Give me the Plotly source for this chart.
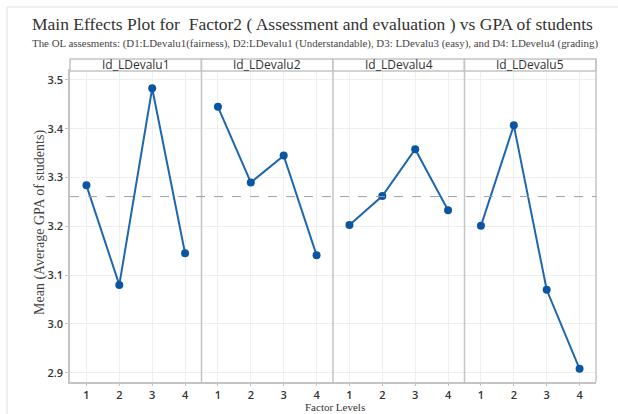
import plotly.graph_objects as go

# Factor levels and mean GPA for each assessment item
levels = [1, 2, 3, 4]
panels = ["Id_LDevalu1", "Id_LDevalu2", "Id_LDevalu4", "Id_LDevalu5"]
means_d1 = [3.284, 3.080, 3.483, 3.145]
means_d2 = [3.445, 3.290, 3.345, 3.141]
means_d4 = [3.203, 3.262, 3.358, 3.233]
means_d5 = [3.201, 3.407, 3.070, 2.908]
grand_mean = 3.261
y_ticks = [2.9, 3.0, 3.1, 3.2, 3.3, 3.4, 3.5]

series = [means_d1, means_d2, means_d4, means_d5]

W, H = 618, 414
ML, MR, MT, MB = 70, 22, 71, 32
plot_w = W - ML - MR
plot_h = H - MT - MB

line_col = "#1f66b0"
marker_col = "#0a56a3"
axis_col = "#c4c4c4"
grid_col = "#efefef"
tick_font = dict(family="Open Sans", size=11, color="#333333", weight=600)
serif = "Liberation Serif"


def px_x(p):
    return (p - ML) / plot_w


def px_y(p):
    return (H - MB - p) / plot_h


fig = go.Figure()
n = len(panels)
hdr = 12 / plot_h
for i, (name, vals) in enumerate(zip(panels, series)):
    xa = "x" if i == 0 else f"x{i+1}"
    fig.add_trace(go.Scatter(
        x=levels, y=vals, mode="lines+markers", xaxis=xa, yaxis="y",
        line=dict(color=line_col, width=2),
        marker=dict(color=marker_col, size=8),
        showlegend=False, hoverinfo="x+y", name=name,
    ))
    d0, d1 = i / n, (i + 1) / n
    key = "xaxis" if i == 0 else f"xaxis{i+1}"
    fig.layout[key] = dict(
        domain=[d0, d1], range=[0.5, 4.5], tickvals=levels,
        showline=True, linecolor=axis_col, linewidth=1.5, mirror=True,
        showgrid=True, gridcolor=grid_col, gridwidth=1,
        ticks="outside", ticklen=2, tickcolor=axis_col,
        tickfont=tick_font, zeroline=False, anchor="y", fixedrange=True,
    )
    # strip header above each panel
    fig.add_shape(type="rect", xref="paper", yref="paper",
                  x0=d0, x1=d1, y0=1, y1=1 + hdr,
                  line=dict(color=axis_col, width=1.5), fillcolor="white")
    fig.add_annotation(text=name, xref="paper", yref="paper",
                       x=(d0 + d1) / 2, y=1 + hdr / 2, showarrow=False,
                       xanchor="center", yanchor="middle",
                       font=dict(family="Open Sans", size=12, color="#333333"))
    # panel right border
    fig.add_shape(type="line", xref="paper", yref="paper",
                  x0=d1, x1=d1, y0=0, y1=1 + hdr,
                  line=dict(color=axis_col, width=1.5))

fig.update_layout(
    yaxis=dict(range=[2.8810, 3.5184], tickvals=y_ticks,
               tickformat=".1f", showline=True, linecolor=axis_col,
               linewidth=1.5, showgrid=True, gridcolor=grid_col,
               ticks="outside", ticklen=3, tickcolor=axis_col,
               tickfont=tick_font, zeroline=False, fixedrange=True),
)

# grand mean reference line across all panels
fig.add_shape(type="line", xref="paper", yref="y", x0=0, x1=1,
              y0=grand_mean, y1=grand_mean,
              line=dict(color="#a0a0a0", width=1, dash="dash"))

# outer frame
fig.add_shape(type="line", xref="paper", yref="paper",
              x0=px_x(7), x1=px_x(W), y0=px_y(7), y1=px_y(7),
              line=dict(color="#e0e0e0", width=1))
fig.add_shape(type="line", xref="paper", yref="paper",
              x0=px_x(7), x1=px_x(7), y0=px_y(7), y1=px_y(H),
              line=dict(color="#e0e0e0", width=1))

fig.add_annotation(
    text="Main Effects Plot for  Factor2 ( Assessment and evaluation ) vs GPA of students",
    xref="paper", yref="paper", x=px_x(312), y=px_y(24),
    showarrow=False, xanchor="center", yanchor="middle",
    font=dict(family=serif, size=17.5, color="#333333"))
fig.add_annotation(
    text="The OL assesments: (D1:LDevalu1(fairness), D2:LDevalu1 (Understandable), D3: LDevalu3 (easy), and D4: LDevelu4 (grading)",
    xref="paper", yref="paper", x=px_x(315), y=px_y(44),
    showarrow=False, xanchor="center", yanchor="middle",
    font=dict(family=serif, size=10.9, color="#444444"))
fig.add_annotation(
    text="Mean (Average GPA of students)", textangle=-90,
    xref="paper", yref="paper", x=px_x(40), y=px_y(223),
    showarrow=False, xanchor="center", yanchor="middle",
    font=dict(family=serif, size=14, color="#444444"))
fig.add_annotation(
    text="Factor Levels", xref="paper", yref="paper", x=px_x(335), y=px_y(414),
    showarrow=False, xanchor="center", yanchor="bottom", borderpad=0,
    font=dict(family=serif, size=11, color="#333333"))

fig.update_layout(
    width=W, height=H, margin=dict(l=ML, r=MR, t=MT, b=MB),
    paper_bgcolor="white", plot_bgcolor="white",
)

fig.write_html("out.html", config={"displayModeBar": False})
